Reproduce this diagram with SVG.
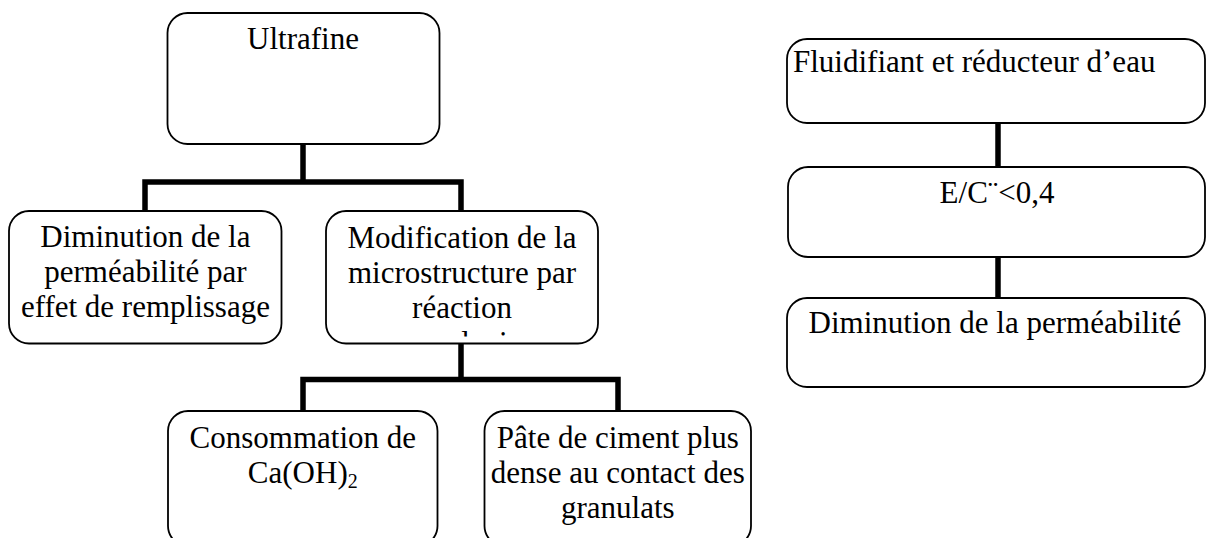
<svg xmlns="http://www.w3.org/2000/svg" width="1207" height="538" viewBox="0 0 1207 538">
  <style>
    .box { fill: #ffffff; stroke: #000000; stroke-width: 1.8; }
    .link { fill: none; stroke: #000000; stroke-width: 5.5; stroke-linejoin: miter; }
    text { font-family: "Liberation Serif", "Times New Roman", serif; font-size: 31px; fill: #000000; }
    .c { text-anchor: middle; }
  </style>
  <defs>
    <clipPath id="clip-last-line">
      <rect x="326" y="320" width="272" height="16.5"/>
    </clipPath>
  </defs>
  <rect width="1207" height="538" fill="#ffffff"/>

  <!-- connectors -->
  <g id="connectors">
    <path class="link" d="M303 144 V182"/>
    <path class="link" d="M145 211 V182 H461 V211"/>
    <path class="link" d="M461 343 V379.5"/>
    <path class="link" d="M303 411 V379.5 H618 V411"/>
    <path class="link" d="M998 123 V167"/>
    <path class="link" d="M998 257 V298"/>
  </g>

  <!-- left tree -->
  <g id="ultrafine">
    <rect class="box" x="167.5" y="13" width="272" height="131" rx="20"/>
    <text class="c" x="303" y="49">Ultrafine</text>
  </g>

  <g id="remplissage">
    <rect class="box" x="9" y="211" width="272.5" height="132.5" rx="20"/>
    <text class="c" x="145.4" y="247">Diminution de la</text>
    <text class="c" x="145.4" y="282">perméabilité par</text>
    <text class="c" x="145.4" y="317">effet de remplissage</text>
  </g>

  <g id="microstructure">
    <rect class="box" x="326" y="211" width="272" height="132.5" rx="20"/>
    <text class="c" x="462" y="248">Modification de la</text>
    <text class="c" x="462" y="283">microstructure par</text>
    <text class="c" x="462" y="318">réaction</text>
    <text class="c" x="462" y="353" clip-path="url(#clip-last-line)">pouzzolanique</text>
  </g>

  <g id="consommation">
    <rect class="box" x="168" y="411" width="269.5" height="135" rx="20"/>
    <text class="c" x="302.8" y="448">Consommation de</text>
    <text class="c" x="302.8" y="483">Ca(OH)<tspan font-size="20" dy="5">2</tspan></text>
  </g>

  <g id="pate">
    <rect class="box" x="484.5" y="411" width="266.5" height="135" rx="20"/>
    <text class="c" x="617.8" y="448">Pâte de ciment plus</text>
    <text class="c" x="617.8" y="483">dense au contact des</text>
    <text class="c" x="617.8" y="518">granulats</text>
  </g>

  <!-- right chain -->
  <g id="fluidifiant">
    <rect class="box" x="787" y="39" width="418" height="84" rx="20"/>
    <text x="793" y="72">Fluidifiant et réducteur d’eau</text>
  </g>

  <g id="rapport-ec">
    <rect class="box" x="788" y="167" width="417" height="90" rx="20"/>
    <text class="c" x="997" y="203">E/C¨&lt;0,4</text>
  </g>

  <g id="permeabilite">
    <rect class="box" x="787" y="298" width="418" height="89" rx="20"/>
    <text class="c" x="995" y="333">Diminution de la perméabilité</text>
  </g>
</svg>
